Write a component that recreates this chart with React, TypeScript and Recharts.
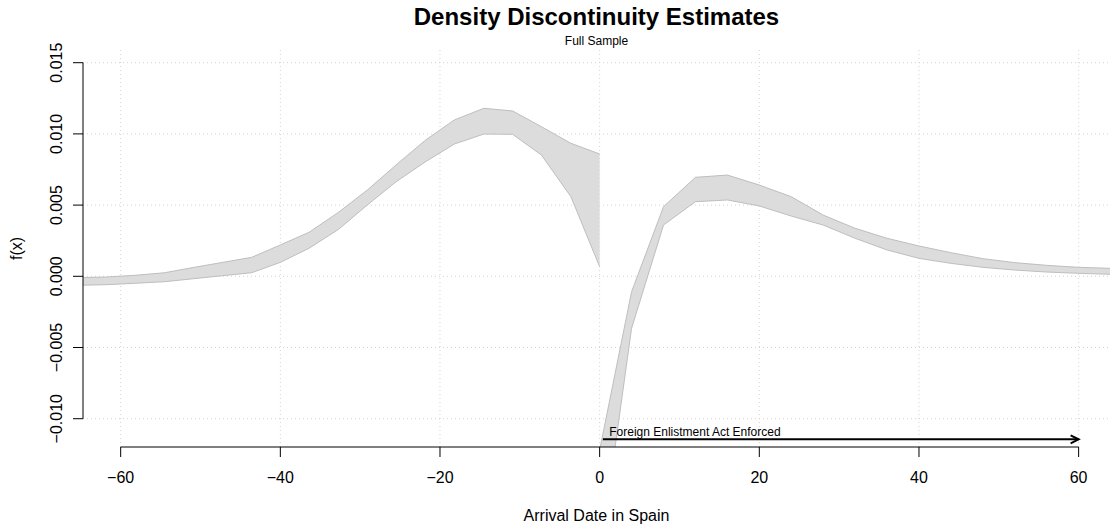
import React from "react";
import {
  ComposedChart,
  Area,
  XAxis,
  YAxis,
  CartesianGrid,
  ReferenceLine,
  ReferenceDot,
} from "recharts";

// left side of the cutoff: confidence band (lower / upper)
const LEFT_X = [-65.5, -61.8, -58.2, -54.5, -50.9, -47.3, -43.6, -40.0, -36.4, -32.7, -29.1, -25.5, -21.8, -18.2, -14.5, -10.9, -7.3, -3.6, 0];
const LEFT_LOWER = [-0.00063, -0.00059, -0.00049, -0.00038, -0.00017, 0.00004, 0.00025, 0.00098, 0.00197, 0.0033, 0.00501, 0.00664, 0.00805, 0.00929, 0.00999, 0.00997, 0.00852, 0.00559, 0.00067];
const LEFT_UPPER = [-0.0001, -0.00005, 0.00007, 0.00025, 0.00062, 0.00097, 0.00133, 0.0022, 0.00309, 0.0045, 0.00606, 0.00782, 0.00957, 0.01098, 0.0118, 0.01161, 0.01051, 0.00934, 0.00859];

// right side of the cutoff
const RIGHT_X = [0, 4, 8, 12, 16, 20, 24, 28, 32, 36, 40, 44, 48, 52, 56, 60, 64];
const RIGHT_LOWER = [-0.0198, -0.00365, 0.0036, 0.00524, 0.00536, 0.00494, 0.00423, 0.0036, 0.00267, 0.00185, 0.00126, 0.00091, 0.00063, 0.00044, 0.0003, 0.00021, 0.00014];
const RIGHT_UPPER = [-0.0122, -0.00108, 0.00489, 0.00695, 0.00711, 0.00641, 0.00559, 0.0043, 0.00337, 0.00267, 0.00213, 0.00166, 0.00124, 0.00096, 0.00077, 0.00063, 0.00056];

const X_TICKS = [-60, -40, -20, 0, 20, 40, 60];
const Y_TICKS = [-0.01, -0.005, 0, 0.005, 0.01, 0.015];
const X_DOMAIN = [-64.72, 63.93];
const Y_DOMAIN = [-0.011987, 0.015892];

// annotation arrow
const ARROW_FROM = 0.4;
const ARROW_TO = 60;
const ARROW_Y = -0.01145;
const NOTE_X = 1.2;
const NOTE_Y = -0.01121;
const NOTE_TEXT = "Foreign Enlistment Act Enforced";

const FONT = '"Liberation Sans", Arial, Helvetica, sans-serif';

const leftData = LEFT_X.map((x, i) => ({ x, range: [LEFT_LOWER[i], LEFT_UPPER[i]] }));
const rightData = RIGHT_X.map((x, i) => ({ x, range: [RIGHT_LOWER[i], RIGHT_UPPER[i]] }));

const minus = (s: string) => s.replace("-", "\u2212");

function XTick({ x, y, payload }: any) {
  return (
    <text x={x} y={y + 23.5} textAnchor="middle" fontSize={16} fontFamily={FONT} fill="#000">
      {minus(String(payload.value))}
    </text>
  );
}

function YTick({ x, y, payload }: any) {
  return (
    <text
      transform={`translate(${x - 9},${y}) rotate(-90)`}
      textAnchor="middle"
      fontSize={16}
      fontFamily={FONT}
      fill="#000"
    >
      {minus(Number(payload.value).toFixed(3))}
    </text>
  );
}

function ArrowShape({ x1, y1, x2, y2 }: any) {
  return (
    <g>
      <line x1={x1} y1={y1} x2={x2} y2={y2} stroke="#000" strokeWidth={2} />
      <polyline
        points={`${x2 - 8},${y2 - 4} ${x2},${y2} ${x2 - 8},${y2 + 4}`}
        fill="none"
        stroke="#000"
        strokeWidth={2}
      />
    </g>
  );
}

function NoteShape({ cx, cy }: any) {
  return (
    <text x={cx} y={cy} fontSize={12} fontFamily={FONT} fill="#000">
      {NOTE_TEXT}
    </text>
  );
}

// grid only at the tick values, no lines on the plot edges
const gridRows = ({ offset }: any) =>
  Y_TICKS.map((t) => offset.top + (offset.height * (Y_DOMAIN[1] - t)) / (Y_DOMAIN[1] - Y_DOMAIN[0]));
const gridCols = ({ offset }: any) =>
  X_TICKS.map((t) => offset.left + (offset.width * (t - X_DOMAIN[0])) / (X_DOMAIN[1] - X_DOMAIN[0]));

export default function App() {
  return (
    <div style={{ position: "absolute", left: 0, top: 0, width: 1110, height: 529, background: "#fff" }}>
      <ComposedChart width={1110} height={529} margin={{ top: 50, right: 0, bottom: 0, left: 0 }}>
        <XAxis
          type="number"
          dataKey="x"
          domain={X_DOMAIN}
          allowDataOverflow
          ticks={X_TICKS}
          interval={0}
          height={82}
          axisLine={false}
          tickLine={{ stroke: "#000" }}
          tickSize={10}
          tick={<XTick />}
        />
        <YAxis
          type="number"
          domain={Y_DOMAIN}
          allowDataOverflow
          ticks={Y_TICKS}
          interval={0}
          width={83}
          axisLine={false}
          tickLine={{ stroke: "#000" }}
          tickSize={10}
          tick={<YTick />}
        />
        <Area
          data={leftData}
          dataKey="range"
          type="linear"
          fill="#DCDCDC"
          fillOpacity={1}
          stroke="#BEBEBE"
          strokeWidth={1}
          dot={false}
          activeDot={false}
          isAnimationActive={false}
        />
        <Area
          data={rightData}
          dataKey="range"
          type="linear"
          fill="#DCDCDC"
          fillOpacity={1}
          stroke="#BEBEBE"
          strokeWidth={1}
          dot={false}
          activeDot={false}
          isAnimationActive={false}
        />
        <CartesianGrid
          stroke="#D3D3D3"
          strokeDasharray="1 3"
          horizontalCoordinatesGenerator={gridRows}
          verticalCoordinatesGenerator={gridCols}
        />
        {/* axis lines spanning only the tick range, R style */}
        <ReferenceLine
          segment={[{ x: X_TICKS[0], y: Y_DOMAIN[0] }, { x: X_TICKS[X_TICKS.length - 1], y: Y_DOMAIN[0] }]}
          stroke="#000"
          ifOverflow="visible"
        />
        <ReferenceLine
          segment={[{ x: X_DOMAIN[0], y: Y_TICKS[0] }, { x: X_DOMAIN[0], y: Y_TICKS[Y_TICKS.length - 1] }]}
          stroke="#000"
          ifOverflow="visible"
        />
        <ReferenceLine
          segment={[{ x: ARROW_FROM, y: ARROW_Y }, { x: ARROW_TO, y: ARROW_Y }]}
          ifOverflow="visible"
          shape={<ArrowShape />}
        />
        <ReferenceDot x={NOTE_X} y={NOTE_Y} r={0} ifOverflow="visible" shape={<NoteShape />} />
      </ComposedChart>
      <svg
        width={1110}
        height={529}
        style={{ position: "absolute", left: 0, top: 0, pointerEvents: "none" }}
        fontFamily={FONT}
      >
        <text x={596.5} y={25} textAnchor="middle" fontSize={24} fontWeight="bold" fill="#000">
          Density Discontinuity Estimates
        </text>
        <text x={596.5} y={45} textAnchor="middle" fontSize={12} fill="#000">
          Full Sample
        </text>
        <text x={596.5} y={521} textAnchor="middle" fontSize={16} fill="#000">
          Arrival Date in Spain
        </text>
        <text transform="translate(22,248.5) rotate(-90)" textAnchor="middle" fontSize={16} fill="#000">
          f(x)
        </text>
      </svg>
    </div>
  );
}
